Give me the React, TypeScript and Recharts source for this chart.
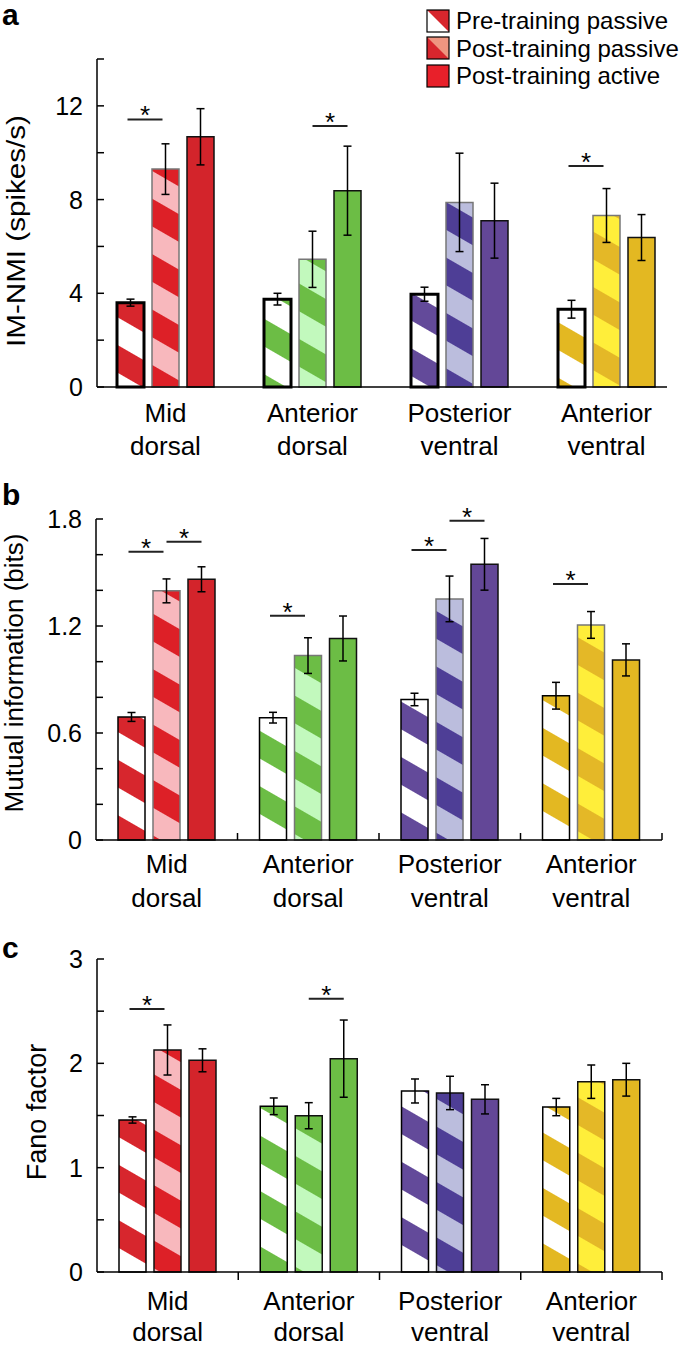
import React from "react";
import { BarChart, Bar, XAxis, YAxis, ErrorBar, Cell } from "recharts";

const regions = ["Mid dorsal", "Anterior dorsal", "Posterior ventral", "Anterior ventral"];
const conditions = ["Pre-training passive", "Post-training passive", "Post-training active"];

// a: IM-NMI (spikes/s)
const nmiPre = [3.6, 3.75, 3.96, 3.32];
const nmiPreErr = [0.15, 0.25, 0.3, 0.38];
const nmiPostPassive = [9.3, 5.45, 7.88, 7.32];
const nmiPostPassiveErr = [1.08, 1.2, 2.1, 1.15];
const nmiPostActive = [10.68, 8.38, 7.1, 6.38];
const nmiPostActiveErr = [1.2, 1.9, 1.6, 0.98];
const nmiSig12 = [11.42, null, null, 9.43];
const nmiSig23 = [null, 11.14, null, null];
const nmiTicks = [0, 2, 4, 6, 8, 10, 12, 14];
const nmiTickLabels = [0, 4, 8, 12];

// b: mutual information (bits)
const miPre = [0.69, 0.686, 0.788, 0.809];
const miPreErr = [0.025, 0.03, 0.035, 0.075];
const miPostPassive = [1.397, 1.034, 1.352, 1.206];
const miPostPassiveErr = [0.067, 0.1, 0.128, 0.075];
const miPostActive = [1.462, 1.13, 1.546, 1.01];
const miPostActiveErr = [0.07, 0.126, 0.145, 0.09];
const miSig12 = [1.617, 1.257, 1.626, 1.436];
const miSig23 = [1.673, null, 1.79, null];
const miTicks = [0, 0.2, 0.4, 0.6, 0.8, 1, 1.2, 1.4, 1.6, 1.8];
const miTickLabels = [0, 0.6, 1.2, 1.8];

// c: Fano factor
const fanoPre = [1.457, 1.588, 1.735, 1.581];
const fanoPreErr = [0.03, 0.08, 0.115, 0.083];
const fanoPostPassive = [2.128, 1.498, 1.716, 1.824];
const fanoPostPassiveErr = [0.24, 0.125, 0.16, 0.16];
const fanoPostActive = [2.029, 2.045, 1.655, 1.843];
const fanoPostActiveErr = [0.11, 0.37, 0.14, 0.157];
const fanoSig12 = [2.52, null, null, null];
const fanoSig23 = [null, 2.62, null, null];
const fanoTicks = [0, 0.5, 1, 1.5, 2, 2.5, 3];
const fanoTickLabels = [0, 1, 2, 3];

const palette = [
  { stripe: "#D7262D", light: "#F8B8BD", lightStripe: "#DD2027", solid: "#D3242B" },
  { stripe: "#6CBD45", light: "#C2F9BD", lightStripe: "#6CBD45", solid: "#6CBD45" },
  { stripe: "#634A9A", light: "#BBBDDD", lightStripe: "#4E3E96", solid: "#634797" },
  { stripe: "#E3B822", light: "#FFEE3A", lightStripe: "#E4B827", solid: "#E3B822" },
];

const FONT = "'Liberation Sans', Arial, Helvetica, sans-serif";
const BAR_SIZE = 27;
const BAR_GAP = 8;

type Row = {
  region: string;
  pre: number; preErr: number;
  postPassive: number; postPassiveErr: number;
  postActive: number; postActiveErr: number;
  sig12: number | null; sig23: number | null;
};

const makeRows = (
  pre: number[], preErr: number[], pp: number[], ppErr: number[],
  pa: number[], paErr: number[], s12: (number | null)[], s23: (number | null)[]
): Row[] =>
  regions.map((region, i) => ({
    region,
    pre: pre[i], preErr: preErr[i],
    postPassive: pp[i], postPassiveErr: ppErr[i],
    postActive: pa[i], postActiveErr: paErr[i],
    sig12: s12[i], sig23: s23[i],
  }));

const nmiRows = makeRows(nmiPre, nmiPreErr, nmiPostPassive, nmiPostPassiveErr, nmiPostActive, nmiPostActiveErr, nmiSig12, nmiSig23);
const miRows = makeRows(miPre, miPreErr, miPostPassive, miPostPassiveErr, miPostActive, miPostActiveErr, miSig12, miSig23);
const fanoRows = makeRows(fanoPre, fanoPreErr, fanoPostPassive, fanoPostPassiveErr, fanoPostActive, fanoPostActiveErr, fanoSig12, fanoSig23);

const Patterns = () => (
  <svg width={0} height={0} style={{ position: "absolute" }}>
    <defs>
      {palette.map((c, i) => (
        <React.Fragment key={i}>
          <pattern id={`pre${i}`} patternUnits="userSpaceOnUse" width={10} height={48} patternTransform="rotate(30)">
            <rect width={10} height={48} fill="#fff" />
            <rect width={10} height={24} fill={c.stripe} />
          </pattern>
          <pattern id={`pp${i}`} patternUnits="userSpaceOnUse" width={10} height={48} patternTransform="rotate(30)">
            <rect width={10} height={48} fill={c.light} />
            <rect width={10} height={24} fill={c.lightStripe} />
          </pattern>
        </React.Fragment>
      ))}
    </defs>
  </svg>
);

const SigLabel = (rows: Row[]) => (props: any) => {
  const vb = props.viewBox ?? props;
  const x = Number(props.x ?? vb.x);
  const y = Number(props.y ?? vb.y);
  const width = Number(props.width ?? vb.width);
  const height = Number(props.height ?? vb.height);
  const row = rows[props.index];
  if (!row || !height) return null;
  const base = y + height;
  const k = height / row.postPassive;
  const cx = x + width / 2;
  const pitch = width + BAR_GAP;
  const marks: React.ReactNode[] = [];
  const add = (v: number, x1: number, x2: number, key: string) => {
    const sy = base - v * k;
    marks.push(
      <g key={key}>
        <line x1={x1} x2={x2} y1={sy} y2={sy} stroke="#222" strokeWidth={2} />
        <text x={(x1 + x2) / 2} y={sy + 5} textAnchor="middle" fontSize={26} fontFamily={FONT} fill="#000">*</text>
      </g>
    );
  };
  if (row.sig12 != null) add(row.sig12, cx - pitch - 3, cx - 3, "s12");
  if (row.sig23 != null) add(row.sig23, cx + 0, cx + pitch, "s23");
  return <g>{marks}</g>;
};

const YTick = (labels: number[], fmt: (v: number) => string) => (props: any) => {
  const { x, y, payload } = props;
  const show = labels.some((l) => Math.abs(l - payload.value) < 1e-6);
  return (
    <g>
      <line x1={x} x2={x + 7} y1={y} y2={y} stroke="#000" strokeWidth={1.5} />
      {show && (
        <text x={x - 14} y={y + 9} textAnchor="end" fontSize={25} fontFamily={FONT} fill="#000">
          {fmt(payload.value)}
        </text>
      )}
    </g>
  );
};

const XTick = (boundary: "none" | "up" | "down", dy1: number, lineH: number) => (props: any) => {
  const { x, y, payload } = props;
  const [l1, l2] = String(payload.value).split(" ");
  const half = payload.offset ?? 0;
  return (
    <g>
      {boundary === "up" && <line x1={x + half} x2={x + half} y1={y} y2={y - 7} stroke="#000" strokeWidth={1.5} />}
      {boundary === "down" && <line x1={x + half} x2={x + half} y1={y} y2={y + 8} stroke="#000" strokeWidth={1.5} />}
      <text x={x} y={y + dy1} textAnchor="middle" fontSize={26} fontFamily={FONT} fill="#000">
        <tspan x={x}>{l1}</tspan>
        <tspan x={x} dy={lineH}>{l2}</tspan>
      </text>
    </g>
  );
};

type PanelProps = {
  rows: Row[];
  top: number;
  height: number;
  plotTop: number;
  plotRight: number;
  yAxisWidth: number;
  xAxisHeight: number;
  domain: [number, number];
  ticks: number[];
  tickLabels: number[];
  fmt: (v: number) => string;
  yLabel: string;
  yLabelX: number;
  yLabelCy: number;
  yLabelSize: number;
  yLabelLen?: number;
  boundary: "none" | "up" | "down";
  catDy: number;
  catLineH: number;
  padding?: { left: number; right: number };
  preStroke: number;
  passiveStroke: string;
};

const Panel = (p: PanelProps) => (
  <div style={{ position: "absolute", left: 0, top: p.top }}>
    <BarChart
      width={685}
      height={p.height}
      data={p.rows}
      margin={{ top: p.plotTop, right: p.plotRight, left: 0, bottom: 0 }}
      barGap={BAR_GAP}
    >
      <XAxis
        dataKey="region"
        height={p.xAxisHeight}
        interval={0}
        tickLine={false}
        tickSize={0}
        tickMargin={0}
        axisLine={{ stroke: "#000", strokeWidth: 1.5 }}
        padding={p.padding}
        tick={XTick(p.boundary, p.catDy, p.catLineH)}
      />
      <YAxis
        width={p.yAxisWidth}
        domain={p.domain}
        ticks={p.ticks}
        interval={0}
        tickLine={false}
        tickSize={0}
        tickMargin={0}
        axisLine={{ stroke: "#000", strokeWidth: 1.5 }}
        tick={YTick(p.tickLabels, p.fmt)}
        label={{
          content: () => (
            <text
              x={p.yLabelX}
              y={p.yLabelCy}
              transform={`rotate(-90 ${p.yLabelX} ${p.yLabelCy})`}
              textAnchor="middle"
              dominantBaseline="central"
              fontSize={p.yLabelSize}
              fontFamily={FONT}
              fill="#000"
              textLength={p.yLabelLen}
              lengthAdjust={p.yLabelLen ? "spacingAndGlyphs" : undefined}
            >
              {p.yLabel}
            </text>
          ),
        }}
      />
      <Bar dataKey="pre" name={conditions[0]} barSize={BAR_SIZE} isAnimationActive={false}>
        {p.rows.map((_, i) => (
          <Cell key={i} fill={`url(#pre${i})`} stroke="#000" strokeWidth={p.preStroke} />
        ))}
        <ErrorBar dataKey="preErr" width={4} stroke="#000" strokeWidth={1.5} />
      </Bar>
      <Bar
        dataKey="postPassive"
        name={conditions[1]}
        barSize={BAR_SIZE}
        isAnimationActive={false}
        label={SigLabel(p.rows)}
      >
        {p.rows.map((_, i) => (
          <Cell key={i} fill={`url(#pp${i})`} stroke={p.passiveStroke} strokeWidth={1.5} />
        ))}
        <ErrorBar dataKey="postPassiveErr" width={4} stroke="#000" strokeWidth={1.5} />
      </Bar>
      <Bar dataKey="postActive" name={conditions[2]} barSize={BAR_SIZE} isAnimationActive={false}>
        {p.rows.map((_, i) => (
          <Cell key={i} fill={palette[i].solid} stroke="#111" strokeWidth={1.5} />
        ))}
        <ErrorBar dataKey="postActiveErr" width={4} stroke="#000" strokeWidth={1.5} />
      </Bar>
    </BarChart>
  </div>
);

const LegendBox = () => (
  <svg width={265} height={95} style={{ position: "absolute", left: 420, top: 0 }}>
    <g transform="translate(7,10)">
      <rect width={22} height={22} fill="#D7262D" />
      <polygon points="0,0 22,22 0,22" fill="#fff" />
      <rect width={22} height={22} fill="none" stroke="#000" strokeWidth={1.2} />
    </g>
    <g transform="translate(7,37)">
      <rect width={22} height={22} fill="#EE9580" />
      <polygon points="0,0 22,22 0,22" fill="#D7262D" />
      <rect width={22} height={22} fill="none" stroke="#000" strokeWidth={1.2} />
    </g>
    <g transform="translate(7,65)">
      <rect width={22} height={22} fill="#E8202A" stroke="#000" strokeWidth={1.2} />
    </g>
    {conditions.map((c, i) => (
      <text key={c} x={36} y={29 + i * 27.5} fontSize={24} fontFamily={FONT} fill="#000">
        {c}
      </text>
    ))}
  </svg>
);

const Letters = () => (
  <svg width={40} height={1346} style={{ position: "absolute", left: 0, top: 0 }}>
    <text x={2} y={25} fontSize={30} fontWeight="bold" fontFamily={FONT}>a</text>
    <text x={2} y={505} fontSize={30} fontWeight="bold" fontFamily={FONT}>b</text>
    <text x={2} y={958} fontSize={30} fontWeight="bold" fontFamily={FONT}>c</text>
  </svg>
);

const App = () => (
  <div style={{ position: "absolute", left: 0, top: 0, width: 685, height: 1346, background: "#fff", fontFamily: FONT }}>
    <Patterns />
    <Panel
      rows={nmiRows}
      top={0}
      height={470}
      plotTop={59}
      plotRight={18}
      yAxisWidth={97}
      xAxisHeight={83}
      domain={[0, 14]}
      ticks={nmiTicks}
      tickLabels={nmiTickLabels}
      fmt={(v) => String(v)}
      yLabel="IM-NMI (spikes/s)"
      yLabelX={16}
      yLabelCy={231}
      yLabelSize={26}
      yLabelLen={232}
      boundary="none"
      catDy={35}
      catLineH={33}
      padding={{ left: -5, right: -13 }}
      preStroke={3}
      passiveStroke="#777"
    />
    <Panel
      rows={miRows}
      top={470}
      height={460}
      plotTop={49}
      plotRight={23}
      yAxisWidth={96}
      xAxisHeight={90}
      domain={[0, 1.8]}
      ticks={miTicks}
      tickLabels={miTickLabels}
      fmt={(v) => (v === 0 ? "0" : v.toFixed(1))}
      yLabel="Mutual information (bits)"
      yLabelX={14}
      yLabelCy={203}
      yLabelSize={26}
      boundary="up"
      catDy={33}
      catLineH={34}
      preStroke={1.5}
      passiveStroke="#777"
    />
    <Panel
      rows={fanoRows}
      top={930}
      height={416}
      plotTop={29}
      plotRight={23}
      yAxisWidth={97}
      xAxisHeight={74}
      domain={[0, 3]}
      ticks={fanoTicks}
      tickLabels={fanoTickLabels}
      fmt={(v) => String(v)}
      yLabel="Fano factor"
      yLabelX={37}
      yLabelCy={182}
      yLabelSize={27}
      boundary="down"
      catDy={38}
      catLineH={31}
      preStroke={1.5}
      passiveStroke="#111"
    />
    <LegendBox />
    <Letters />
  </div>
);

export default App;
